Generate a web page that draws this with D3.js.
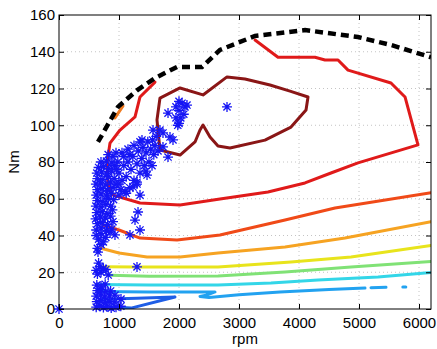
<!DOCTYPE html>
<html>
<head>
<meta charset="utf-8">
<script src="https://cdn.jsdelivr.net/npm/d3@7"></script>
<style>
  body { margin: 0; background: #fff; }
  text { font-family: "Liberation Sans", Arial, sans-serif; }
</style>
</head>
<body>
<div id="chart"></div>
<script>
// tick labels
const rpmTicks = [0, 1000, 2000, 3000, 4000, 5000, 6000];
const nmTicks = [0, 20, 40, 60, 80, 100, 120, 140, 160];

// full load torque curve [rpm, Nm]
const maxTorque = [[650, 90.9], [983, 110], [1300, 119], [1600, 125.7], [1967, 131.7], [2383, 131.7],
  [2683, 141], [3267, 148.6], [4100, 151.8], [4983, 148], [5533, 143.7], [6200, 137]];

// contour lines, lowest to highest level [rpm, Nm]
const level1 = [[700, 5.3], [1300, 5.8], [1933, 6.5], [1200, 0.5], [850, 1.2]];
const level2 = [[650, 9.5], [1500, 9.3], [2600, 9.3], [2450, 7.5], [2350, 6.8], [2500, 6.3], [3000, 7.8],
  [3683, 9.3], [4500, 10.6], [5100, 11.4]];
const level2b = [[5200, 11.6], [5450, 11.8]];
const level2c = [[5730, 12], [5780, 12]];
const level3 = [[633, 13.3], [1500, 13.1], [2650, 13.1], [3533, 14.1], [4317, 15.8], [5317, 17.4], [6200, 19.8]];
const level4 = [[850, 18.3], [1500, 17.8], [2650, 18], [3767, 20.1], [4867, 22.9], [6200, 25.8]];
const level5 = [[733, 23], [1300, 22.9], [2650, 22.9], [3867, 25.6], [4867, 28.3], [6200, 34.5]];
const level6 = [[683, 33.2], [1000, 30.5], [1467, 28.3], [2017, 28.3], [2650, 30.5], [3767, 33.7], [4767, 38.6], [6200, 47.5]];
const level7 = [[733, 45.7], [1000, 43], [1350, 38.6], [1967, 37.6], [2683, 40.3], [3767, 48.4], [4600, 55], [6200, 63.3]];
const level7b = [[933, 104], [1067, 110.5]];
const level8 = [[1600, 123.5], [1350, 115.4], [1267, 104.5], [1017, 97.4], [850, 90.3], [800, 79.5], [817, 67.5],
  [900, 62], [1350, 57.7], [2017, 56.6], [2683, 59.9], [3483, 63.7], [4100, 68.6], [4533, 74], [4983, 79.5],
  [5983, 89.3], [5767, 115.4], [5533, 123], [4817, 130], [4650, 135.5], [4433, 135.5], [4267, 137],
  [3650, 137], [3267, 146.4]];
const level9 = [[2017, 120.3], [2400, 116.5], [2800, 126.3], [3100, 125.2], [3517, 121.9], [3850, 118.6],
  [4150, 115.4], [4117, 108.3], [3867, 99], [3433, 91.9], [2850, 87.6], [2650, 88.7], [2517, 93.6],
  [2400, 100.1], [2350, 97.4], [2267, 90.9], [2017, 83.8], [1683, 86.5], [1633, 102.9], [1683, 114.8], [2017, 120.3]];

// measured operating points [rpm, Nm]
const opPoints = [
  [0, 0],
  [620, 43], [700, 44], [790, 42.5], [880, 43.5],
  [640, 46.5], [720, 47], [810, 46], [900, 47.5],
  [610, 49], [690, 50], [770, 49.5], [860, 50.5],
  [630, 52.5], [720, 53], [800, 52], [890, 54],
  [615, 56], [700, 55.5], [780, 57], [860, 56],
  [640, 59], [730, 58.5], [820, 60], [910, 59.5],
  [620, 62], [700, 62.5], [790, 61.5], [870, 63],
  [640, 65], [720, 65.5], [810, 64.5], [900, 66],
  [615, 68], [690, 68.5], [780, 67.5], [860, 69],
  [640, 71], [730, 70.5], [820, 72], [920, 71],
  [630, 74], [710, 74.5], [800, 73.5], [880, 75],
  [660, 77], [740, 77.5], [830, 76.5], [930, 78],
  [700, 80], [790, 80.5], [880, 79.5], [820, 84], [900, 83],
  [950, 68], [1000, 74], [980, 80], [1050, 70], [1080, 78], [1050, 85], [1030, 65], [1120, 72],
  [1150, 80], [1150, 87], [1180, 84], [1200, 76], [1230, 83], [1250, 89], [1250, 70], [1300, 79],
  [1320, 86], [1350, 74], [1380, 82], [1400, 88], [1420, 78], [1450, 85], [1480, 91], [1500, 80],
  [1530, 87], [1560, 92], [1580, 84], [1600, 89], [1620, 94], [1650, 86], [1100, 64], [1180, 66],
  [1000, 62], [950, 85], [1350, 91], [1120, 63], [1300, 68], [1450, 75], [1550, 78], [1000, 68],
  [1080, 83], [960, 76],
  [1567, 97.4], [1733, 95.8], [1850, 93.6], [1900, 92], [1733, 88.2], [1817, 82.7], [1683, 97.4],
  [1383, 92], [1467, 72.9],
  [1817, 106.6], [1950, 104], [2000, 108], [2050, 112], [2100, 110], [1980, 100], [2030, 104],
  [2000, 113], [2080, 106], [1950, 110], [2000, 101], [2133, 111],
  [2800, 110],
  [1350, 62], [1233, 66.4], [1300, 69], [1317, 52.8], [1267, 48.4], [1350, 43], [1183, 40.3],
  [850, 41.9], [933, 40.3],
  [640, 33], [700, 35], [660, 38], [740, 36.5], [620, 40], [700, 41], [780, 39], [650, 31],
  [1300, 22.9],
  [620, 21], [680, 23], [740, 22], [660, 25], [700, 20], [780, 21.5], [820, 18.5], [640, 19],
  [620, 1], [680, 1.5], [740, 0.8], [800, 1.2], [870, 0.5], [950, 1], [1030, 1.5],
  [630, 4], [700, 4.5], [770, 3.5], [850, 4], [930, 3.8], [1033, 5.4],
  [620, 7], [690, 7.5], [760, 6.5], [840, 7], [933, 7.6],
  [640, 10], [710, 10.5], [780, 9.5], [860, 9.8],
  [630, 13], [700, 12.5], [770, 13.5]
];

const width = 437;
const height = 349;
const margin = { top: 15, left: 59, bottom: 40, right: 6 };
const iwidth = width - margin.left - margin.right;
const iheight = height - margin.top - margin.bottom;

const svg = d3.select("#chart").append("svg")
  .attr("width", width)
  .attr("height", height);

const g = svg.append("g")
  .attr("transform", `translate(${margin.left},${margin.top})`);

const x = d3.scaleLinear().domain([0, 6200]).range([0, iwidth]);
const y = d3.scaleLinear().domain([0, 160]).range([iheight, 0]);

svg.append("defs").append("clipPath").attr("id", "plot")
  .append("rect").attr("width", iwidth).attr("height", iheight);

// dotted grid
g.append("g").selectAll("line").data(rpmTicks.slice(1)).join("line")
  .attr("x1", (d) => x(d)).attr("x2", (d) => x(d))
  .attr("y1", 0).attr("y2", iheight)
  .attr("stroke", "#c4c4c4").attr("stroke-dasharray", "1,3");
g.append("g").selectAll("line").data(nmTicks.slice(1, -1)).join("line")
  .attr("y1", (d) => y(d)).attr("y2", (d) => y(d))
  .attr("x1", 0).attr("x2", iwidth)
  .attr("stroke", "#c4c4c4").attr("stroke-dasharray", "1,3");

const line = d3.line().x((d) => x(d[0])).y((d) => y(d[1]));
const plot = g.append("g").attr("clip-path", "url(#plot)");

const contours = [
  [level1, "#1f5ee6"], [level2, "#22a2f0"], [level2b, "#22a2f0"], [level2c, "#22a2f0"],
  [level3, "#33d6e8"], [level4, "#80e276"], [level5, "#e8e41c"], [level6, "#f6a322"],
  [level7, "#f04a18"], [level7b, "#f07a20"], [level8, "#e01a1a"], [level9, "#8a1616"]
];
plot.selectAll("path.contour").data(contours).join("path")
  .attr("class", "contour")
  .attr("d", (d) => line(d[0]))
  .attr("fill", "none")
  .attr("stroke", (d) => d[1])
  .attr("stroke-width", 3)
  .attr("stroke-linejoin", "round")
  .attr("stroke-linecap", "round");

plot.append("path")
  .attr("d", line(maxTorque))
  .attr("fill", "none")
  .attr("stroke", "#000")
  .attr("stroke-width", 4.5)
  .attr("stroke-dasharray", "8,5");

// asterisk markers
const r = 5, a = r * 0.72;
const star = `M${-r},0L${r},0M0,${-r}L0,${r}M${-a},${-a}L${a},${a}M${-a},${a}L${a},${-a}`;
g.append("g").selectAll("path").data(opPoints).join("path")
  .attr("transform", (d) => `translate(${x(d[0])},${y(d[1])})`)
  .attr("d", star)
  .attr("fill", "none")
  .attr("stroke", "#1616f5")
  .attr("stroke-width", 1.3);

// axes, ticks inside on all four sides
const fmt = d3.format("d");
g.append("g").attr("transform", `translate(0,${iheight})`)
  .call(d3.axisBottom(x).tickValues(rpmTicks).tickFormat(fmt).tickSizeInner(-5).tickSizeOuter(0).tickPadding(8))
  .call((s) => s.select(".domain").remove());
g.append("g")
  .call(d3.axisTop(x).tickValues(rpmTicks).tickSizeInner(-5).tickSizeOuter(0).tickFormat(""))
  .call((s) => s.select(".domain").remove());
g.append("g")
  .call(d3.axisLeft(y).tickValues(nmTicks).tickFormat(fmt).tickSizeInner(-5).tickSizeOuter(0).tickPadding(4))
  .call((s) => s.select(".domain").remove());
g.append("g").attr("transform", `translate(${iwidth},0)`)
  .call(d3.axisRight(y).tickValues(nmTicks).tickSizeInner(-5).tickSizeOuter(0).tickFormat(""))
  .call((s) => s.select(".domain").remove());

g.selectAll(".tick text").attr("font-size", 15).attr("fill", "#000");
g.selectAll(".tick line").attr("stroke", "#000");

g.append("rect")
  .attr("width", iwidth).attr("height", iheight)
  .attr("fill", "none").attr("stroke", "#000").attr("stroke-width", 1);

svg.append("text")
  .attr("x", margin.left + iwidth / 2).attr("y", 344)
  .attr("text-anchor", "middle").attr("font-size", 15)
  .text("rpm");
svg.append("text")
  .attr("transform", `translate(19,${margin.top + iheight / 2}) rotate(-90)`)
  .attr("text-anchor", "middle").attr("font-size", 15)
  .text("Nm");
</script>
</body>
</html>
